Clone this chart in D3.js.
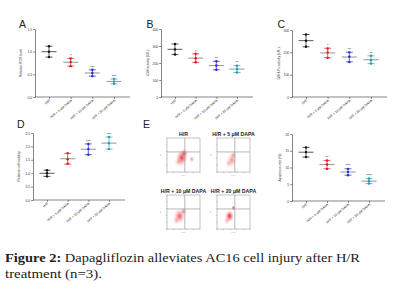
<!DOCTYPE html>
<html><head><meta charset="utf-8">
<script src="https://cdn.jsdelivr.net/npm/d3@7"></script>
<style>body{margin:0;background:#fff}svg{display:block}</style>
</head><body><svg id="fig" width="419" height="289"></svg>
<script>
const groups = ["H/R", "H/R + 5 μM DAPA", "H/R + 10 μM DAPA", "H/R + 20 μM DAPA"];
const groupColors = ["#111111", "#e3141c", "#2a2ac8", "#1fa3b3"];

const rosPoints = [[1.12, 1.0, 0.88], [0.85, 0.77, 0.68], [0.6, 0.53, 0.46], [0.4, 0.34, 0.29]];
const rosStars = ["", "*", "***", "***"];
const ldhPoints = [[312, 280, 250], [254, 228, 204], [210, 185, 160], [184, 165, 144]];
const ldhStars = ["", "*", "**", "**"];
const gshPoints = [[280, 252, 225], [217, 200, 175], [200, 180, 157], [185, 165, 150]];
const gshStars = ["", "*", "**", "**"];
const viabilityPoints = [[1.11, 1.0, 0.88], [1.75, 1.52, 1.35], [2.09, 1.9, 1.69], [2.35, 2.12, 1.9]];
const viabilityStars = ["", "", "***", "***"];
const apoptosisPoints = [[16.0, 14.6, 13.1], [12.1, 10.9, 9.6], [9.6, 8.7, 7.7], [6.7, 5.9, 5.2]];
const apoptosisStars = ["", "**", "***", "****"];

const flowTitles = ["H/R", "H/R + 5 μM DAPA", "H/R + 10 μM DAPA", "H/R + 20 μM DAPA"];
// density blobs per plot: [x, y, rx, ry, strength] in 0..1 plot units
const flowClusters = [
  [[0.45, 0.42, 0.18, 0.24, 0.9], [0.52, 0.55, 0.12, 0.14, 0.8], [0.75, 0.38, 0.09, 0.11, 0.45], [0.35, 0.3, 0.13, 0.16, 0.35]],
  [[0.45, 0.35, 0.16, 0.22, 0.5], [0.5, 0.5, 0.1, 0.12, 0.45], [0.35, 0.25, 0.11, 0.13, 0.3]],
  [[0.38, 0.38, 0.18, 0.22, 0.75], [0.5, 0.52, 0.1, 0.12, 0.55], [0.28, 0.25, 0.11, 0.13, 0.35]],
  [[0.38, 0.38, 0.14, 0.18, 1.0], [0.5, 0.62, 0.07, 0.08, 0.9], [0.3, 0.25, 0.11, 0.13, 0.35]]
];
const flowTicks = [0, 0.2, 0.4, 0.6, 0.8, 1];

const svg = d3.select("#fig");
svg.append("rect").attr("width", 419).attr("height", 289).attr("fill", "#fff");

const defs = svg.append("defs");
const grad = defs.append("radialGradient").attr("id", "blob");
grad.append("stop").attr("offset", "0%").attr("stop-color", "#e3141c").attr("stop-opacity", 0.95);
grad.append("stop").attr("offset", "45%").attr("stop-color", "#ee4a4f").attr("stop-opacity", 0.55);
grad.append("stop").attr("offset", "100%").attr("stop-color", "#f7b0b2").attr("stop-opacity", 0);

function panelLetter(t, x, y) {
  svg.append("text").attr("x", x).attr("y", y).text(t)
    .style("font-family", "Liberation Sans, Arial, sans-serif")
    .style("font-size", "10.5px").attr("fill", "#222");
}

function drawDotPlot(cfg) {
  const g = svg.append("g");
  const y = d3.scaleLinear().domain([0, cfg.max]).range([cfg.bottom, cfg.top]);
  const x = d3.scalePoint().domain(groups).range([cfg.left + 14, cfg.right - 16]);

  const yAxis = d3.axisLeft(y).tickValues(cfg.ticks).tickFormat(d3.format(cfg.fmt))
    .tickSize(1.8).tickSizeOuter(0).tickPadding(1);
  const ay = g.append("g").attr("transform", `translate(${cfg.left},0)`).call(yAxis);
  ay.selectAll("text").style("font-size", "3.4px").style("font-family", "Liberation Sans, Arial, sans-serif").attr("fill", "#333");
  ay.selectAll("line,path").attr("stroke", "#333").attr("stroke-width", 0.6);

  const xAxis = d3.axisBottom(x).tickSize(1.8).tickSizeOuter(0).tickFormat("");
  const ax = g.append("g").attr("transform", `translate(0,${cfg.bottom})`).call(xAxis);
  ax.select("path").attr("d", `M${cfg.left},0H${cfg.right}`);
  ax.selectAll("line,path").attr("stroke", "#333").attr("stroke-width", 0.6);

  g.selectAll(".xl").data(groups).join("text")
    .attr("transform", d => `translate(${x(d) + 1.5},${cfg.bottom + 4}) rotate(-40)`)
    .attr("text-anchor", "end")
    .style("font-size", "3.4px").style("font-family", "Liberation Sans, Arial, sans-serif")
    .attr("fill", "#333").text(d => d);

  g.append("text")
    .attr("transform", `translate(${cfg.labelX},${(cfg.top + cfg.bottom) / 2}) rotate(-90)`)
    .attr("text-anchor", "middle")
    .style("font-size", "3.4px").style("font-family", "Liberation Sans, Arial, sans-serif")
    .attr("fill", "#333").text(cfg.label);

  cfg.points.forEach((pts, i) => {
    const cx = x(groups[i]);
    const m = d3.mean(pts), s = d3.deviation(pts);
    const col = groupColors[i];
    g.append("line").attr("x1", cx).attr("x2", cx).attr("y1", y(m + s)).attr("y2", y(m - s))
      .attr("stroke", col).attr("stroke-width", 0.7);
    [m + s, m - s].forEach(v => {
      g.append("line").attr("x1", cx - 3.5).attr("x2", cx + 3.5).attr("y1", y(v)).attr("y2", y(v))
        .attr("stroke", i === 0 ? "#111" : col).attr("stroke-width", 0.7);
    });
    g.append("line").attr("x1", cx - 7.5).attr("x2", cx + 7.5).attr("y1", y(m)).attr("y2", y(m))
      .attr("stroke", i === 0 ? "#111" : "#666").attr("stroke-width", 0.7);
    g.selectAll(null).data(pts).join("circle")
      .attr("cx", cx).attr("cy", d => y(d)).attr("r", 1.2).attr("fill", col);
    if (cfg.stars[i]) {
      g.append("text").attr("x", cx).attr("y", y(m + s) - 1.3).attr("text-anchor", "middle")
        .style("font-size", "4px").style("font-family", "Liberation Sans, Arial, sans-serif")
        .attr("fill", "#222").text(cfg.stars[i]);
    }
  });
}

drawDotPlot({ left: 35, right: 130, top: 29, bottom: 97, max: 1.5, ticks: [0, 0.5, 1.0, 1.5], fmt: ".1f",
  label: "Relative ROS level", labelX: 22, points: rosPoints, stars: rosStars });
drawDotPlot({ left: 161, right: 253, top: 29, bottom: 97, max: 400, ticks: [0, 100, 200, 300, 400], fmt: "d",
  label: "LDH activity (U/L)", labelX: 149, points: ldhPoints, stars: ldhStars });
drawDotPlot({ left: 292, right: 387, top: 30, bottom: 97, max: 300, ticks: [0, 100, 200, 300], fmt: "d",
  label: "GSH-Px activity (U/L)", labelX: 280, points: gshPoints, stars: gshStars });
drawDotPlot({ left: 33, right: 125, top: 133, bottom: 200, max: 2.5, ticks: [0, 0.5, 1.0, 1.5, 2.0, 2.5], fmt: ".1f",
  label: "Relative cell viability", labelX: 20, points: viabilityPoints, stars: viabilityStars });
drawDotPlot({ left: 292, right: 385, top: 134, bottom: 201, max: 20, ticks: [0, 5, 10, 15, 20], fmt: "d",
  label: "Apoptosis rate (%)", labelX: 281, points: apoptosisPoints, stars: apoptosisStars });

panelLetter("A", 19, 27.5);
panelLetter("B", 146.5, 27.5);
panelLetter("C", 277.5, 27.5);
panelLetter("D", 17, 127.5);
panelLetter("E", 143, 127.5);

// flow cytometry panels
const flowBoxes = [[167, 138], [217, 138], [167, 195], [217, 195]];
const fw = 33, fh = 34;
flowBoxes.forEach((b, i) => {
  const g = svg.append("g").attr("transform", `translate(${b[0]},${b[1]})`);
  const fx = d3.scaleLinear().domain([0, 1]).range([0, fw]);
  const fy = d3.scaleLinear().domain([0, 1]).range([fh, 0]);
  g.append("text").attr("x", fw / 2).attr("y", -2.5).attr("text-anchor", "middle")
    .style("font-size", "5.2px").style("font-weight", "bold")
    .style("font-family", "Liberation Sans, Arial, sans-serif").attr("fill", "#222")
    .text(flowTitles[i]);
  g.append("g").selectAll("ellipse").data(flowClusters[i]).join("ellipse")
    .attr("cx", d => fx(d[0])).attr("cy", d => fy(d[1]))
    .attr("rx", d => fx(d[2])).attr("ry", d => fh - fy(d[3]))
    .attr("fill", "url(#blob)").attr("opacity", d => d[4]);
  g.append("rect").attr("width", fw).attr("height", fh).attr("fill", "none")
    .attr("stroke", "#888").attr("stroke-width", 0.5);
  g.append("line").attr("x1", fx(0.54)).attr("x2", fx(0.54)).attr("y1", 0).attr("y2", fh)
    .attr("stroke", "#999").attr("stroke-width", 0.7);
  g.append("line").attr("x1", 0).attr("x2", fw).attr("y1", fy(0.59)).attr("y2", fy(0.59))
    .attr("stroke", "#999").attr("stroke-width", 0.7);
  g.selectAll(".tx").data(flowTicks).join("line")
    .attr("x1", d => fx(d)).attr("x2", d => fx(d)).attr("y1", fh).attr("y2", fh + 1.2)
    .attr("stroke", "#888").attr("stroke-width", 0.4);
  g.selectAll(".ty").data(flowTicks).join("line")
    .attr("y1", d => fy(d)).attr("y2", d => fy(d)).attr("x1", 0).attr("x2", -1.2)
    .attr("stroke", "#888").attr("stroke-width", 0.4);
  g.append("text").attr("x", fw / 2).attr("y", fh + 4).attr("text-anchor", "middle")
    .style("font-size", "2px").attr("fill", "#777").text("FITC");
  g.append("text").attr("transform", `translate(-6,${fh / 2}) rotate(-90)`).attr("text-anchor", "middle")
    .style("font-size", "2px").attr("fill", "#777").text("PI");
});

// caption
const cap = svg.append("g").style("font-family", "Liberation Serif, 'DejaVu Serif', serif").style("font-size", "13px").attr("fill", "#222");
const l1 = cap.append("text").attr("x", 5).attr("y", 262).attr("textLength", 355).attr("lengthAdjust", "spacingAndGlyphs");
l1.append("tspan").style("font-weight", "bold").text("Figure 2:");
l1.append("tspan").text(" Dapagliflozin alleviates AC16 cell injury after H/R");
cap.append("text").attr("x", 5).attr("y", 278).attr("textLength", 97).attr("lengthAdjust", "spacingAndGlyphs")
  .text("treatment (n=3).");
</script>
</body></html>
